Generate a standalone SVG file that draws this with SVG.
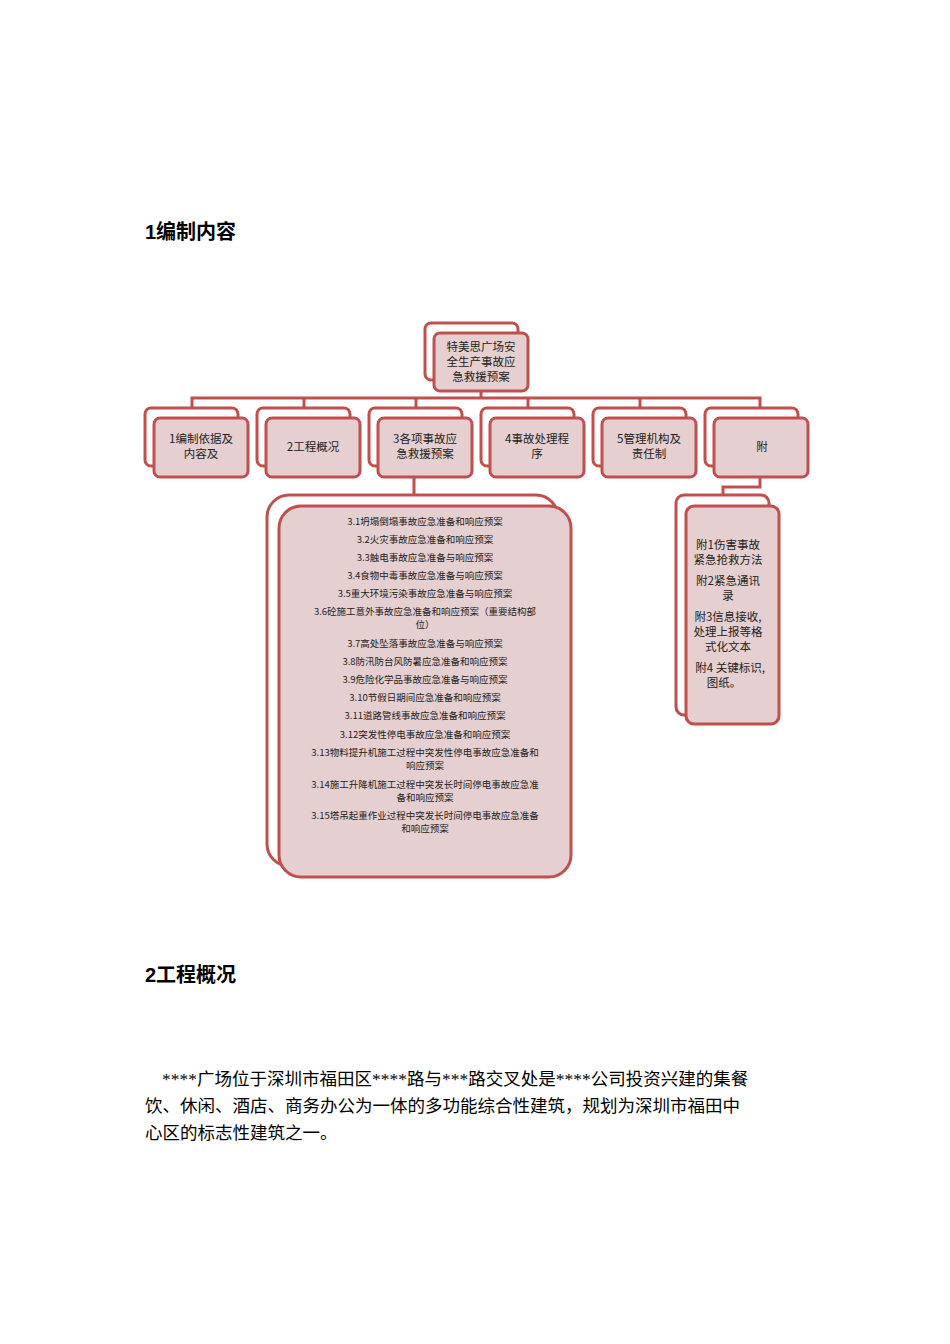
<svg xmlns="http://www.w3.org/2000/svg" width="950" height="1344" viewBox="0 0 950 1344">
<style>
.b{fill:#fff;stroke:#c0504d;stroke-width:3}
.f{fill:#e6cfd0;stroke:#c0504d;stroke-width:3}
.c{fill:none;stroke:#c0504d;stroke-width:3}
.t{font-family:"Noto Sans CJK SC",sans-serif;font-size:11.5px;fill:#222;text-anchor:middle}
.s{font-family:"Noto Sans CJK SC",sans-serif;font-size:9.5px;fill:#222;text-anchor:middle}
.h{font-family:"Liberation Sans","Noto Sans CJK SC",sans-serif;font-size:20px;font-weight:bold;fill:#000}
.p{font-family:"Liberation Serif","Noto Sans CJK SC",serif;font-size:17.5px;fill:#000}
</style>
<rect width="950" height="1344" fill="#fff"/>
<text class="h" x="145" y="239">1编制内容</text>
<text class="h" x="145" y="982">2工程概况</text>
<text class="p" x="162" y="1085">****广场位于深圳市福田区****路与***路交叉处是****公司投资兴建的集餐</text>
<text class="p" x="145" y="1112">饮、休闲、酒店、商务办公为一体的多功能综合性建筑，规划为深圳市福田中</text>
<text class="p" x="145" y="1139">心区的标志性建筑之一。</text>
<g id="connectors">
<path class="c" d="M481 391V398M192 408V398H760V408M304 398V408M416 398V408M528 398V408M640 398V408M414 477V495M760 477V487H723V495"/>
</g>
<g id="root"><rect class="b" x="425" y="323" width="93" height="57" rx="6"/><rect class="f" x="434" y="333" width="94" height="58" rx="6"/>
<text class="t" x="481" y="351">特美思广场安</text><text class="t" x="481" y="366">全生产事故应</text><text class="t" x="481" y="381">急救援预案</text></g>
<g id="n1"><rect class="b" x="145" y="408" width="93" height="58" rx="6"/><rect class="f" x="154" y="418" width="94" height="59" rx="6"/><text class="t" x="201" y="443">1编制依据及</text><text class="t" x="201" y="458">内容及</text></g>
<g id="n2"><rect class="b" x="257" y="408" width="93" height="58" rx="6"/><rect class="f" x="266" y="418" width="94" height="59" rx="6"/><text class="t" x="313" y="451">2工程概况</text></g>
<g id="n3"><rect class="b" x="369" y="408" width="93" height="58" rx="6"/><rect class="f" x="378" y="418" width="94" height="59" rx="6"/><text class="t" x="425" y="443">3各项事故应</text><text class="t" x="425" y="458">急救援预案</text></g>
<g id="n4"><rect class="b" x="481" y="408" width="93" height="58" rx="6"/><rect class="f" x="490" y="418" width="94" height="59" rx="6"/><text class="t" x="537" y="443">4事故处理程</text><text class="t" x="537" y="458">序</text></g>
<g id="n5"><rect class="b" x="593" y="408" width="93" height="58" rx="6"/><rect class="f" x="602" y="418" width="94" height="59" rx="6"/><text class="t" x="649" y="443">5管理机构及</text><text class="t" x="649" y="458">责任制</text></g>
<g id="n6"><rect class="b" x="705" y="408" width="93" height="58" rx="6"/><rect class="f" x="714" y="418" width="94" height="59" rx="6"/><text class="t" x="762" y="451">附</text></g>
<g id="n3list"><rect class="b" x="267" y="495" width="291" height="371" rx="22"/><rect class="f" x="279" y="506" width="292" height="371" rx="22"/>
<text class="s" x="425" y="525">3.1坍塌倒塌事故应急准备和响应预案</text>
<text class="s" x="425" y="543">3.2火灾事故应急准备和响应预案</text>
<text class="s" x="425" y="561">3.3触电事故应急准备与响应预案</text>
<text class="s" x="425" y="579">3.4食物中毒事故应急准备与响应预案</text>
<text class="s" x="425" y="597">3.5重大环境污染事故应急准备与响应预案</text>
<text class="s" x="425" y="615">3.6砼施工意外事故应急准备和响应预案（重要结构部</text>
<text class="s" x="425" y="628">位）</text>
<text class="s" x="425" y="647">3.7高处坠落事故应急准备与响应预案</text>
<text class="s" x="425" y="665">3.8防汛防台风防暑应急准备和响应预案</text>
<text class="s" x="425" y="683">3.9危险化学品事故应急准备与响应预案</text>
<text class="s" x="425" y="701">3.10节假日期间应急准备和响应预案</text>
<text class="s" x="425" y="719">3.11道路管线事故应急准备和响应预案</text>
<text class="s" x="425" y="738">3.12突发性停电事故应急准备和响应预案</text>
<text class="s" x="425" y="756">3.13物料提升机施工过程中突发性停电事故应急准备和</text>
<text class="s" x="425" y="769">响应预案</text>
<text class="s" x="425" y="788">3.14施工升降机施工过程中突发长时间停电事故应急准</text>
<text class="s" x="425" y="801">备和响应预案</text>
<text class="s" x="425" y="819">3.15塔吊起重作业过程中突发长时间停电事故应急准备</text>
<text class="s" x="425" y="832">和响应预案</text></g>
<g id="n6list"><rect class="b" x="676" y="495" width="93" height="220" rx="8"/><rect class="f" x="686" y="506" width="93" height="218" rx="8"/>
<text class="t" x="728" y="549">附1伤害事故</text><text class="t" x="728" y="564">紧急抢救方法</text>
<text class="t" x="728" y="585">附2紧急通讯</text><text class="t" x="728" y="600">录</text>
<text class="t" x="728" y="621">附3信息接收,</text><text class="t" x="728" y="636">处理上报等格</text><text class="t" x="728" y="651">式化文本</text>
<text class="t" x="730" y="672">附4 关键标识,</text><text class="t" x="724" y="687">图纸。</text></g>
</svg>
